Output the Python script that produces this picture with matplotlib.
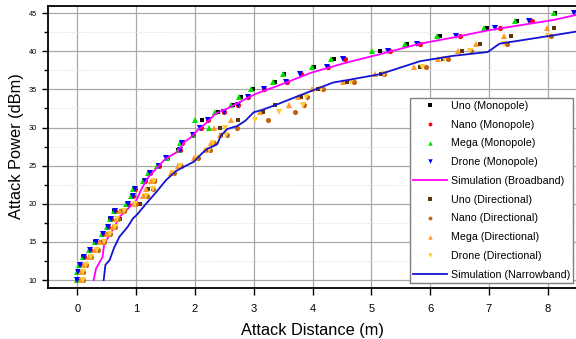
import numpy as np
import matplotlib
matplotlib.use("Agg")
import matplotlib.pyplot as plt
from matplotlib.ticker import MultipleLocator

plt.rcParams['font.family'] = ['Liberation Sans', 'DejaVu Sans']

nan = np.nan
power = list(range(10, 46))

uno_mono = [0.00,0.01,0.04,0.10,0.21,0.31,0.43,0.52,0.56,0.63,0.85,0.93,0.97,1.13,1.22,1.37,1.53,1.72,
            1.76,1.97,2.11,2.12,2.40,2.65,2.79,2.99,3.37,3.52,4.02,4.36,5.15,5.60,6.16,6.96,7.47,8.12]
nano_mono = [0.00,0.02,0.05,0.11,0.22,0.32,0.43,0.52,0.58,0.64,0.86,0.95,0.98,1.16,1.23,1.39,1.52,1.74,
             1.78,1.96,2.10,2.23,2.49,2.73,2.91,3.18,3.56,3.81,4.26,4.55,5.32,5.83,6.50,7.18,7.73,nan]
mega_mono = [0.00,0.00,0.03,0.09,0.20,0.30,0.42,0.51,0.55,0.62,0.83,0.92,0.95,1.11,1.21,1.36,1.52,1.71,
             1.75,1.96,2.24,2.00,2.35,2.61,2.75,2.95,3.32,3.49,3.99,4.31,5.01,5.58,6.12,6.92,7.44,8.10]
drone_mono = [0.00,0.02,0.05,0.11,0.22,0.32,0.43,0.52,0.58,0.64,0.86,0.95,0.98,1.16,1.23,1.39,1.51,1.74,
              1.78,1.96,2.09,2.23,2.49,2.73,2.91,3.18,3.55,3.79,4.25,4.52,5.29,5.77,6.44,7.10,7.68,8.45]

uno_dir = [0.08,0.09,0.14,0.22,0.33,0.40,0.53,0.62,0.72,0.74,1.06,1.15,1.20,1.32,1.61,1.73,2.03,2.22,
           2.32,2.45,2.43,2.74,3.15,3.36,3.80,4.09,4.59,5.16,5.82,6.22,6.55,6.84,7.38,8.10,nan,nan]
nano_dir = [0.10,0.10,0.15,0.24,0.35,0.46,0.56,0.65,0.70,0.80,1.00,1.18,1.28,1.30,1.64,1.76,2.05,2.25,
            2.33,2.55,2.71,3.25,3.70,3.86,3.91,4.18,4.70,5.22,5.93,6.30,6.70,7.31,8.05,nan,nan,nan]
mega_dir = [0.06,0.07,0.12,0.20,0.30,0.38,0.51,0.60,0.66,0.72,0.97,1.12,1.17,1.25,1.59,1.71,1.98,2.18,
            2.27,2.43,2.33,2.62,3.11,3.60,3.76,3.99,4.52,5.07,5.73,6.14,6.47,6.78,7.25,7.99,nan,nan]
drone_dir = [0.09,0.10,0.15,0.23,0.34,0.46,0.55,0.64,0.68,0.80,0.99,1.17,1.28,1.30,1.63,1.75,2.03,2.24,
             2.31,2.53,2.52,3.03,3.43,3.84,3.89,4.14,4.65,5.21,5.86,6.24,6.67,7.25,8.00,nan,nan,nan]

bb_x = [0.28,0.32,0.43,0.46,0.60,0.72,0.83,1.00,1.11,1.22,1.39,1.50,1.70,1.82,1.93,2.04,2.18,2.35,
        2.58,2.80,3.03,3.42,3.98,4.57,5.14,5.83,6.39,6.96,7.52,8.10,8.50]
bb_y = [10.0,11.5,13.0,14.8,16.5,18.3,19.1,20.4,22.2,23.6,25.0,25.9,26.8,28.1,28.7,29.6,30.5,31.8,
        32.6,33.5,34.4,35.5,37.2,38.5,39.6,41.0,41.8,42.7,43.4,44.1,44.8]

nb_x = [0.45,0.48,0.55,0.63,0.72,0.86,0.94,1.03,1.17,1.34,1.51,1.68,1.85,1.98,2.12,2.21,2.38,2.44,
        2.55,2.72,2.86,3.00,3.14,3.42,3.78,4.35,4.58,5.15,5.83,6.39,6.98,7.18,7.52,8.10,8.50]
nb_y = [10.0,12.0,12.6,14.3,15.7,17.0,18.0,18.7,20.0,21.5,23.1,24.3,25.0,25.5,26.6,27.2,27.8,28.9,
        29.8,30.2,30.9,32.0,32.3,33.1,34.2,35.9,36.2,37.0,38.7,39.4,39.9,41.0,41.4,42.1,42.6]

fig = plt.figure(figsize=(5.76, 3.39), dpi=100)
ax = fig.add_axes([47.8/576, 1-287.7/339, 529.4/576, 282.2/339])

ax.set_xlim(-0.5, 8.5)
ax.set_ylim(9, 46)
ax.xaxis.set_major_locator(MultipleLocator(1))
ax.yaxis.set_major_locator(MultipleLocator(5))
ax.yaxis.set_minor_locator(MultipleLocator(2.5))
ax.grid(True, which='major', color='#a8a8a8', lw=0.9, zorder=0)
ax.grid(True, which='minor', axis='y', color='#d8d8d8', lw=0.7, ls=':', zorder=0)
ax.set_axisbelow(True)

ms_sq, ms_c, ms_t = 3.4, 3.7, 4.3
ax.plot(uno_mono, power, 's', color='black', ms=ms_sq, mew=0, label='Uno (Monopole)')
ax.plot(nano_mono, power, 'o', color='#ff0000', ms=ms_c, mew=0, label='Nano (Monopole)')
ax.plot(mega_mono, power, '^', color='#00e000', ms=ms_t, mew=0, label='Mega (Monopole)')
ax.plot(drone_mono, power, 'v', color='#0000ff', ms=ms_t, mew=0, label='Drone (Monopole)')
ax.plot(bb_x, bb_y, '-', color='#ff00ff', lw=1.3, label='Simulation (Broadband)')
ax.plot(uno_dir, power, 's', color='#5a3608', ms=ms_sq, mew=0, label='Uno (Directional)')
ax.plot(nano_dir, power, 'o', color='#c2620e', ms=ms_c, mew=0, label='Nano (Directional)')
ax.plot(mega_dir, power, '^', color='#ff9a26', ms=ms_t, mew=0, label='Mega (Directional)')
ax.plot(drone_dir, power, 'v', color='#ffca3a', ms=ms_t, mew=0, label='Drone (Directional)')
ax.plot(nb_x, nb_y, '-', color='#1414d0', lw=1.3, label='Simulation (Narrowband)')

for s in ['left', 'bottom', 'top']:
    ax.spines[s].set_linewidth(1.3)
ax.spines['right'].set_visible(False)

ax.tick_params(axis='x', which='major', direction='out', length=5, width=1, labelsize=8, pad=6.5)
ax.tick_params(axis='y', which='major', direction='out', length=4.5, width=1, labelsize=5.3, pad=3.5)
ax.tick_params(axis='y', which='minor', direction='out', length=3, width=1)

ax.set_xlabel('Attack Distance (m)', fontsize=11.8, labelpad=6.5)
ax.set_ylabel('Attack Power (dBm)', fontsize=11.8, labelpad=3)

leg = ax.legend(loc='lower right', bbox_to_anchor=((573-47.8)/529.4, (287.7-283)/282.2),
                borderaxespad=0, fontsize=7.7, frameon=True, fancybox=False, framealpha=1,
                edgecolor='#808080', labelspacing=0.82, handlelength=3.2, handletextpad=0.3,
                borderpad=0.3, markerscale=0.75)
leg.get_frame().set_linewidth(1.0)

fig.savefig('out.png', dpi=100)
